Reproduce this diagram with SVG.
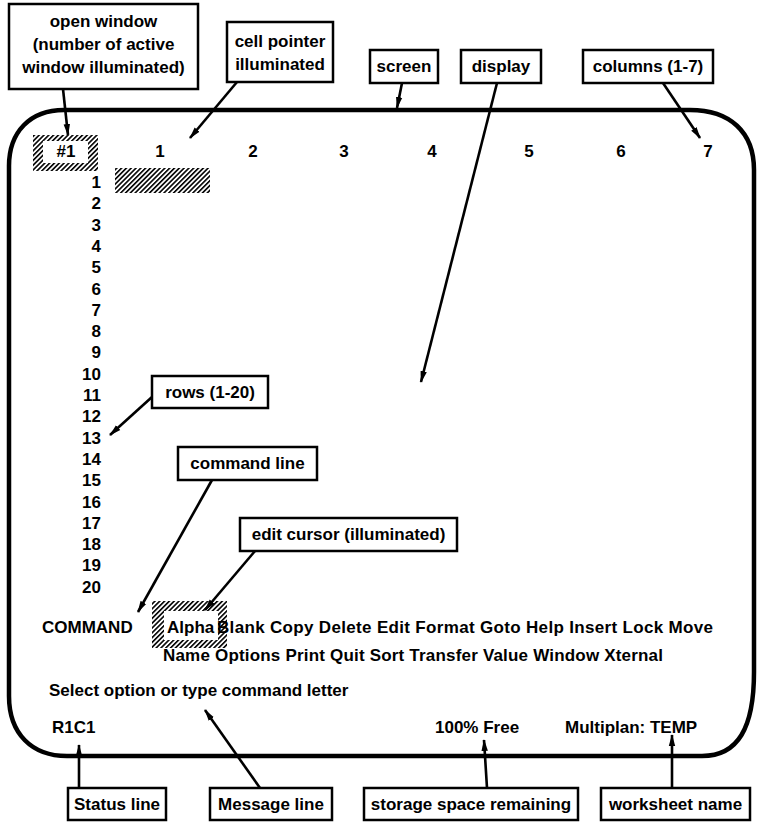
<svg xmlns="http://www.w3.org/2000/svg" width="757" height="824" viewBox="0 0 757 824">
<style>
text{font-family:"Liberation Sans",Arial,sans-serif;font-weight:bold;font-size:17px;fill:#000}
.box{fill:#fff;stroke:#000;stroke-width:2.5}
.c{text-anchor:middle}
.r{text-anchor:end}
.con{stroke:#000;stroke-width:2.6;fill:none;marker-end:url(#ah)}
</style>
<defs>
<pattern id="hatch" width="3.4" height="3.4" patternUnits="userSpaceOnUse" patternTransform="rotate(45)">
<rect width="1.6" height="3.4" fill="#000"/>
</pattern>
<marker id="ah" viewBox="0 0 12 8" refX="11" refY="4" markerWidth="12" markerHeight="8" markerUnits="userSpaceOnUse" orient="auto">
<path d="M0,0.8 L12,4 L0,7.2 Z" fill="#000"/>
</marker>
</defs>
<rect width="757" height="824" fill="#fff"/>

<g id="screen-outline">
<path d="M64,110 H690 C730,110 754,132 754,170 V672 C754,728 738,756 702,756 H67 C32,756 9,734 9,696 V166 C9,132 30,110 64,110 Z" fill="none" stroke="#000" stroke-width="4.5"/>
</g>

<g id="sheet">
<rect x="33" y="135" width="65" height="36" fill="url(#hatch)"/>
<rect x="43" y="141" width="45" height="22" fill="#fff"/>
<text x="66" y="157" class="c">#1</text>
<text x="160" y="157" class="c">1</text>
<text x="253" y="157" class="c">2</text>
<text x="344" y="157" class="c">3</text>
<text x="432" y="157" class="c">4</text>
<text x="529" y="157" class="c">5</text>
<text x="621" y="157" class="c">6</text>
<text x="708" y="157" class="c">7</text>
<rect x="115" y="168" width="95" height="25" fill="url(#hatch)"/>
<g class="r">
<text x="101" y="188">1</text>
<text x="101" y="209.3">2</text>
<text x="101" y="230.6">3</text>
<text x="101" y="251.9">4</text>
<text x="101" y="273.2">5</text>
<text x="101" y="294.5">6</text>
<text x="101" y="315.8">7</text>
<text x="101" y="337.1">8</text>
<text x="101" y="358.4">9</text>
<text x="101" y="379.7">10</text>
<text x="101" y="401">11</text>
<text x="101" y="422.3">12</text>
<text x="101" y="443.6">13</text>
<text x="101" y="464.9">14</text>
<text x="101" y="486.2">15</text>
<text x="101" y="507.5">16</text>
<text x="101" y="528.8">17</text>
<text x="101" y="550.1">18</text>
<text x="101" y="571.4">19</text>
<text x="101" y="592.7">20</text>
</g>
<rect x="152" y="601" width="75" height="47" fill="url(#hatch)"/>
<rect x="164" y="611" width="54" height="29" fill="#fff"/>
<text x="42" y="633">COMMAND</text>
<text x="167" y="633">Alpha</text>
<text x="217" y="633" textLength="496" lengthAdjust="spacing">Blank Copy Delete Edit Format Goto Help Insert Lock Move</text>
<text x="163" y="661" textLength="500" lengthAdjust="spacing">Name Options Print Quit Sort Transfer Value Window Xternal</text>
<text x="49" y="696">Select option or type command letter</text>
<text x="52" y="733">R1C1</text>
<text x="435" y="733">100% Free</text>
<text x="565" y="733">Multiplan: TEMP</text>
</g>

<g id="connectors">
<line class="con" x1="63" y1="89" x2="68" y2="135"/>
<line class="con" x1="237" y1="82" x2="190" y2="138"/>
<line class="con" x1="402" y1="83" x2="397" y2="108"/>
<line class="con" x1="497" y1="83" x2="421" y2="382"/>
<line class="con" x1="663" y1="83" x2="700" y2="138"/>
<line class="con" x1="152" y1="397" x2="110" y2="435"/>
<line class="con" x1="212" y1="480" x2="138" y2="612"/>
<line class="con" x1="255" y1="551" x2="205" y2="610"/>
<line class="con" x1="79" y1="788" x2="79" y2="745"/>
<line class="con" x1="260" y1="788" x2="205" y2="710"/>
<line class="con" x1="487" y1="788" x2="484" y2="740"/>
<line class="con" x1="672" y1="788" x2="672" y2="735"/>
</g>

<g id="open-window"><rect class="box" x="9" y="4" width="189" height="85"/>
<text x="103.5" y="27" class="c">open window</text>
<text x="103.5" y="50" class="c">(number of active</text>
<text x="103.5" y="73" class="c">window illuminated)</text></g>
<g id="cell-pointer"><rect class="box" x="227" y="22" width="106" height="60"/>
<text x="280" y="47" class="c">cell pointer</text>
<text x="280" y="70" class="c">illuminated</text></g>
<g id="screen"><rect class="box" x="370" y="50" width="68" height="33"/>
<text x="404" y="72" class="c">screen</text></g>
<g id="display"><rect class="box" x="461" y="50" width="80" height="33"/>
<text x="501" y="72" class="c">display</text></g>
<g id="columns"><rect class="box" x="583" y="50" width="130" height="33"/>
<text x="648" y="72" class="c">columns (1-7)</text></g>
<g id="rows"><rect class="box" x="152" y="376" width="116" height="32"/>
<text x="210" y="398" class="c">rows (1-20)</text></g>
<g id="command-line"><rect class="box" x="178" y="447" width="139" height="33"/>
<text x="247.5" y="469" class="c">command line</text></g>
<g id="edit-cursor"><rect class="box" x="240" y="518" width="217" height="33"/>
<text x="348.5" y="540" class="c">edit cursor (illuminated)</text></g>
<g id="status-line"><rect class="box" x="68" y="788" width="98" height="32"/>
<text x="117" y="810" class="c">Status line</text></g>
<g id="message-line"><rect class="box" x="210" y="788" width="122" height="32"/>
<text x="271" y="810" class="c">Message line</text></g>
<g id="storage"><rect class="box" x="364" y="788" width="214" height="32"/>
<text x="471" y="810" class="c">storage space remaining</text></g>
<g id="worksheet-name"><rect class="box" x="601" y="788" width="149" height="32"/>
<text x="675.5" y="810" class="c">worksheet name</text></g>
</svg>
